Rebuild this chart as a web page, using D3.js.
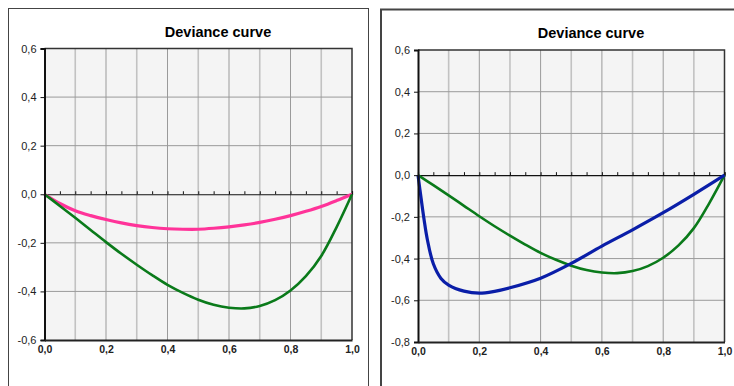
<!DOCTYPE html>
<html><head><meta charset="utf-8">
<script src="https://cdn.jsdelivr.net/npm/d3@7"></script>
<style>
html,body{margin:0;padding:0;background:#fff;}
svg{display:block;font-family:"Liberation Sans",Arial,sans-serif;}
</style></head>
<body>
<svg id="c" width="734" height="386"></svg>
<script>
// ---------- data ----------
const chartTitle = "Deviance curve";
const xTickValues = [0, 0.2, 0.4, 0.6, 0.8, 1.0];
const leftYTicks = [-0.6, -0.4, -0.2, 0, 0.2, 0.4, 0.6];
const rightYTicks = [-0.8, -0.6, -0.4, -0.2, 0, 0.2, 0.4, 0.6];

const greenX = [0, 0.05, 0.1, 0.15, 0.2, 0.25, 0.3, 0.35, 0.4, 0.45, 0.5, 0.55, 0.6, 0.65, 0.7, 0.75, 0.8, 0.85, 0.9, 0.95, 1.0];
const greenY = [0, -0.048, -0.097, -0.147, -0.197, -0.245, -0.29, -0.333, -0.373, -0.406, -0.434, -0.455, -0.467, -0.47, -0.46, -0.436, -0.396, -0.337, -0.254, -0.135, 0];

const pinkX = [0, 0.05, 0.1, 0.15, 0.2, 0.25, 0.3, 0.35, 0.4, 0.45, 0.5, 0.55, 0.6, 0.65, 0.7, 0.75, 0.8, 0.85, 0.9, 0.95, 1.0];
const pinkY = [0, -0.038, -0.068, -0.088, -0.104, -0.118, -0.129, -0.137, -0.142, -0.144, -0.144, -0.14, -0.134, -0.126, -0.116, -0.103, -0.088, -0.07, -0.05, -0.026, 0];

const blueX = [0, 0.01, 0.02, 0.03, 0.05, 0.075, 0.1, 0.15, 0.2, 0.25, 0.3, 0.4, 0.5, 0.6, 0.7, 0.8, 0.9, 1.0];
const blueY = [0, -0.11, -0.215, -0.305, -0.425, -0.495, -0.527, -0.556, -0.566, -0.557, -0.54, -0.494, -0.423, -0.34, -0.262, -0.18, -0.092, 0];

// ---------- layout ----------
const svg = d3.select("#c");
const fmt = v => d3.format(".1f")(v).replace(".", ",").replace("−", "-");

const panels = [
  {frame:[8.5, 8.5, 360, 400], frameW:1, plot:{x0:44.5, x1:352, y0:48.5, y1:340}, yDomain:[-0.6, 0.6], yTicks:leftYTicks,
   titleX:218, titleY:37, series:[{x:pinkX, y:pinkY, color:"#ff3399", w:3.2}, {x:greenX, y:greenY, color:"#0a7a1a", w:2.6}]},
  {frame:[381, 9.5, 400, 400], frameW:2, plot:{x0:418, x1:724.5, y0:50, y1:342}, yDomain:[-0.8, 0.6], yTicks:rightYTicks,
   titleX:591, titleY:38, series:[{x:greenX, y:greenY, color:"#0a7a1a", w:2.6}, {x:blueX, y:blueY, color:"#0a1ea8", w:3.2}]}
];

panels.forEach(p => {
  const g = svg.append("g");
  g.append("rect").attr("x", p.frame[0]).attr("y", p.frame[1]).attr("width", p.frame[2]).attr("height", p.frame[3])
    .attr("fill", "none").attr("stroke", "#444").attr("stroke-width", p.frameW);

  const P = p.plot;
  const x = d3.scaleLinear().domain([0, 1]).range([P.x0, P.x1]);
  const y = d3.scaleLinear().domain(p.yDomain).range([P.y1, P.y0]);

  g.append("rect").attr("x", P.x0).attr("y", P.y0).attr("width", P.x1 - P.x0).attr("height", P.y1 - P.y0)
    .attr("fill", "#f4f4f4");

  // vertical grid
  const vg = d3.range(1, 10).map(i => i / 10);
  g.append("g").selectAll("line").data(vg).join("line")
    .attr("x1", d => x(d)).attr("x2", d => x(d)).attr("y1", P.y0).attr("y2", P.y1)
    .attr("stroke", (d, i) => i % 2 === 0 ? "#c2c2c2" : "#9a9a9a")
    .attr("stroke-width", (d, i) => i % 2 === 0 ? 1.6 : 1);
  // horizontal grid
  g.append("g").selectAll("line").data(p.yTicks.filter(t => t !== 0 && t !== p.yDomain[0] && t !== p.yDomain[1])).join("line")
    .attr("x1", P.x0).attr("x2", P.x1).attr("y1", d => y(d)).attr("y2", d => y(d))
    .attr("stroke", "#9a9a9a").attr("stroke-width", 1);

  // plot frame (top & right)
  g.append("path").attr("d", `M${P.x0},${P.y0}H${P.x1}V${P.y1}`).attr("fill", "none")
    .attr("stroke", "#333").attr("stroke-width", 1.5);

  // zero axis with minor ticks
  const zAx = g.append("g").attr("transform", `translate(0,${y(0)})`)
    .call(d3.axisTop(x).tickValues(d3.range(0, 21).map(i => i / 20)).tickSize(3).tickFormat(""));
  zAx.select(".domain").attr("stroke", "#111").attr("stroke-width", 1.2);
  zAx.selectAll(".tick line").attr("stroke", "#111");

  // series
  p.series.forEach(s => {
    const pts = s.x.map((v, i) => [v, s.y[i]]);
    g.append("path").datum(pts)
      .attr("d", d3.line().x(d => x(d[0])).y(d => y(d[1])).curve(d3.curveCatmullRom.alpha(0.5)))
      .attr("fill", "none").attr("stroke", s.color).attr("stroke-width", s.w).attr("stroke-linejoin", "round");
  });

  // y axis
  const yAx = g.append("g").attr("transform", `translate(${P.x0},0)`)
    .call(d3.axisLeft(y).tickValues(p.yTicks).tickSize(4).tickPadding(4).tickFormat(fmt));
  yAx.select(".domain").attr("stroke", "#111").attr("stroke-width", 2);
  yAx.selectAll(".tick line").attr("stroke", "#111");
  yAx.selectAll("text").attr("font-size", 11).attr("fill", "#222")
    .attr("font-family", "'Liberation Sans',Arial,sans-serif");

  // x axis
  const xAx = g.append("g").attr("transform", `translate(0,${P.y1})`)
    .call(d3.axisBottom(x).tickValues(xTickValues).tickSize(0).tickPadding(6).tickFormat(fmt));
  xAx.select(".domain").attr("stroke", "#222").attr("stroke-width", 2.2);
  xAx.selectAll("text").attr("font-size", 10.5).attr("font-weight", "bold").attr("fill", "#222")
    .attr("font-family", "'Liberation Sans',Arial,sans-serif");

  // title
  g.append("text").attr("x", p.titleX).attr("y", p.titleY).attr("text-anchor", "middle")
    .attr("font-size", 14.5).attr("font-weight", "bold").attr("fill", "#000").text(chartTitle);
});
</script>
</body></html>
